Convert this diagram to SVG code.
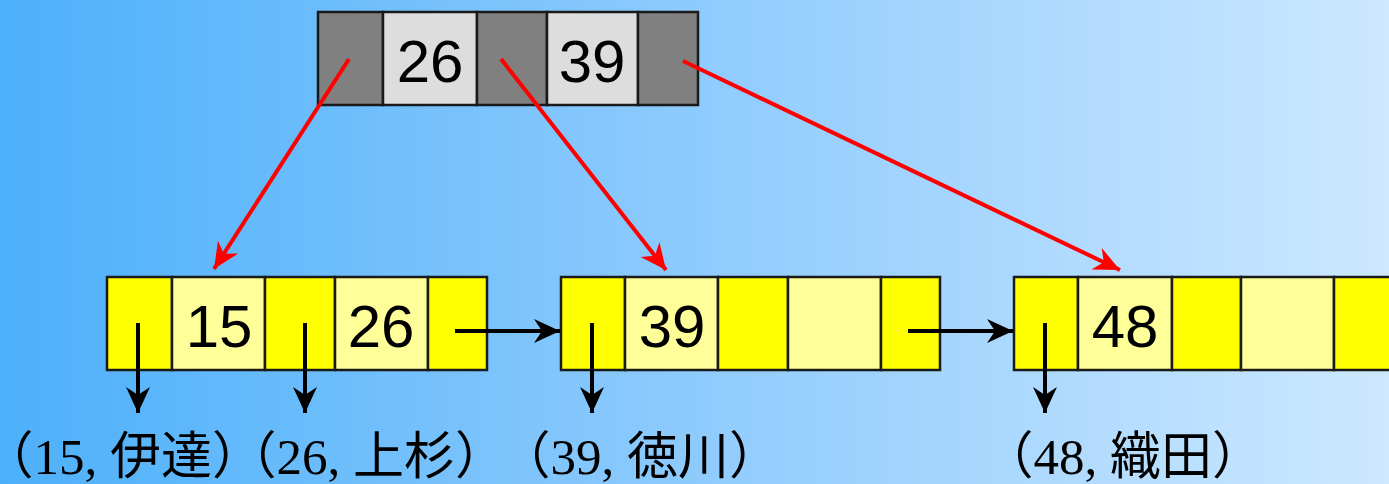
<svg xmlns="http://www.w3.org/2000/svg" width="1389" height="484" viewBox="0 0 1389 484">
<defs>
<linearGradient id="bg" x1="0" y1="0" x2="1" y2="0">
<stop offset="0" stop-color="#4DB0FA"/>
<stop offset="0.5" stop-color="#8ECBFD"/>
<stop offset="1" stop-color="#CDE8FF"/>
</linearGradient>
<marker id="ar" markerUnits="userSpaceOnUse" markerWidth="30" markerHeight="30" viewBox="-27 -14 30 28" refX="0" refY="0" orient="auto">
<path d="M0,0 L-26,-12 L-18,0 L-26,12 Z" fill="#FF0000"/>
</marker>
<marker id="ab" markerUnits="userSpaceOnUse" markerWidth="30" markerHeight="30" viewBox="-27 -14 30 28" refX="0" refY="0" orient="auto">
<path d="M0,0 L-26,-12 L-18,0 L-26,12 Z" fill="#000"/>
</marker>
</defs>
<style>
.c{stroke:#1a1a1a;stroke-width:2.5}
.dg{fill:#808080}
.lg{fill:#DDDDDD}
.y{fill:#FFFF00}
.ly{fill:#FFFF99}
.n{font-family:"Liberation Sans",Arial,sans-serif;font-size:60px;fill:#000;text-anchor:middle}
.lb{font-family:"Liberation Serif","Noto Sans CJK JP",serif;font-size:51px;fill:#000;font-feature-settings:"halt"}
.r{stroke:#FF0000;stroke-width:4;fill:none}
.b{stroke:#000;stroke-width:4;fill:none}
</style>
<rect x="0" y="0" width="1389" height="484" fill="url(#bg)"/>
<g id="root">
<rect class="c dg" x="318" y="12" width="65" height="93"/>
<rect class="c lg" x="383" y="12" width="94" height="93"/>
<rect class="c dg" x="477" y="12" width="70" height="93"/>
<rect class="c lg" x="547" y="12" width="91" height="93"/>
<rect class="c dg" x="638" y="12" width="60" height="93"/>
<text class="n" x="430" y="82">26</text>
<text class="n" x="592" y="82">39</text>
</g>
<g id="leaf1">
<rect class="c y" x="107" y="277" width="65" height="93"/>
<rect class="c ly" x="172" y="277" width="93" height="93"/>
<rect class="c y" x="265" y="277" width="70" height="93"/>
<rect class="c ly" x="335" y="277" width="93" height="93"/>
<rect class="c y" x="428" y="277" width="59" height="93"/>
<text class="n" x="219" y="347">15</text>
<text class="n" x="381" y="347">26</text>
</g>
<g id="leaf2">
<rect class="c y" x="561" y="277" width="64" height="93"/>
<rect class="c ly" x="625" y="277" width="93" height="93"/>
<rect class="c y" x="718" y="277" width="70" height="93"/>
<rect class="c ly" x="788" y="277" width="93" height="93"/>
<rect class="c y" x="881" y="277" width="59" height="93"/>
<text class="n" x="672" y="347">39</text>
</g>
<g id="leaf3">
<rect class="c y" x="1014" y="277" width="64" height="93"/>
<rect class="c ly" x="1078" y="277" width="94" height="93"/>
<rect class="c y" x="1172" y="277" width="69" height="93"/>
<rect class="c ly" x="1241" y="277" width="93" height="93"/>
<rect class="c y" x="1334" y="277" width="70" height="93"/>
<text class="n" x="1125" y="347">48</text>
</g>
<g id="connectors">
<line class="r" x1="349" y1="59" x2="214" y2="269" marker-end="url(#ar)"/>
<line class="r" x1="501" y1="59" x2="666" y2="270" marker-end="url(#ar)"/>
<line class="r" x1="683" y1="61" x2="1120" y2="270" marker-end="url(#ar)"/>
<line class="b" x1="455" y1="331" x2="560" y2="331" marker-end="url(#ab)"/>
<line class="b" x1="908" y1="331" x2="1013" y2="331" marker-end="url(#ab)"/>
<line class="b" x1="138" y1="323" x2="138" y2="413" marker-end="url(#ab)"/>
<line class="b" x1="305" y1="323" x2="305" y2="413" marker-end="url(#ab)"/>
<line class="b" x1="592" y1="323" x2="592" y2="413" marker-end="url(#ab)"/>
<line class="b" x1="1045" y1="323" x2="1045" y2="413" marker-end="url(#ab)"/>
</g>
<g id="labels">
<text class="lb" x="8" y="474">（15, 伊達）</text>
<text class="lb" x="251" y="474">（26, 上杉）</text>
<text class="lb" x="525" y="474">（39, 徳川）</text>
<text class="lb" x="1008" y="474">（48, 織田）</text>
</g>
</svg>
